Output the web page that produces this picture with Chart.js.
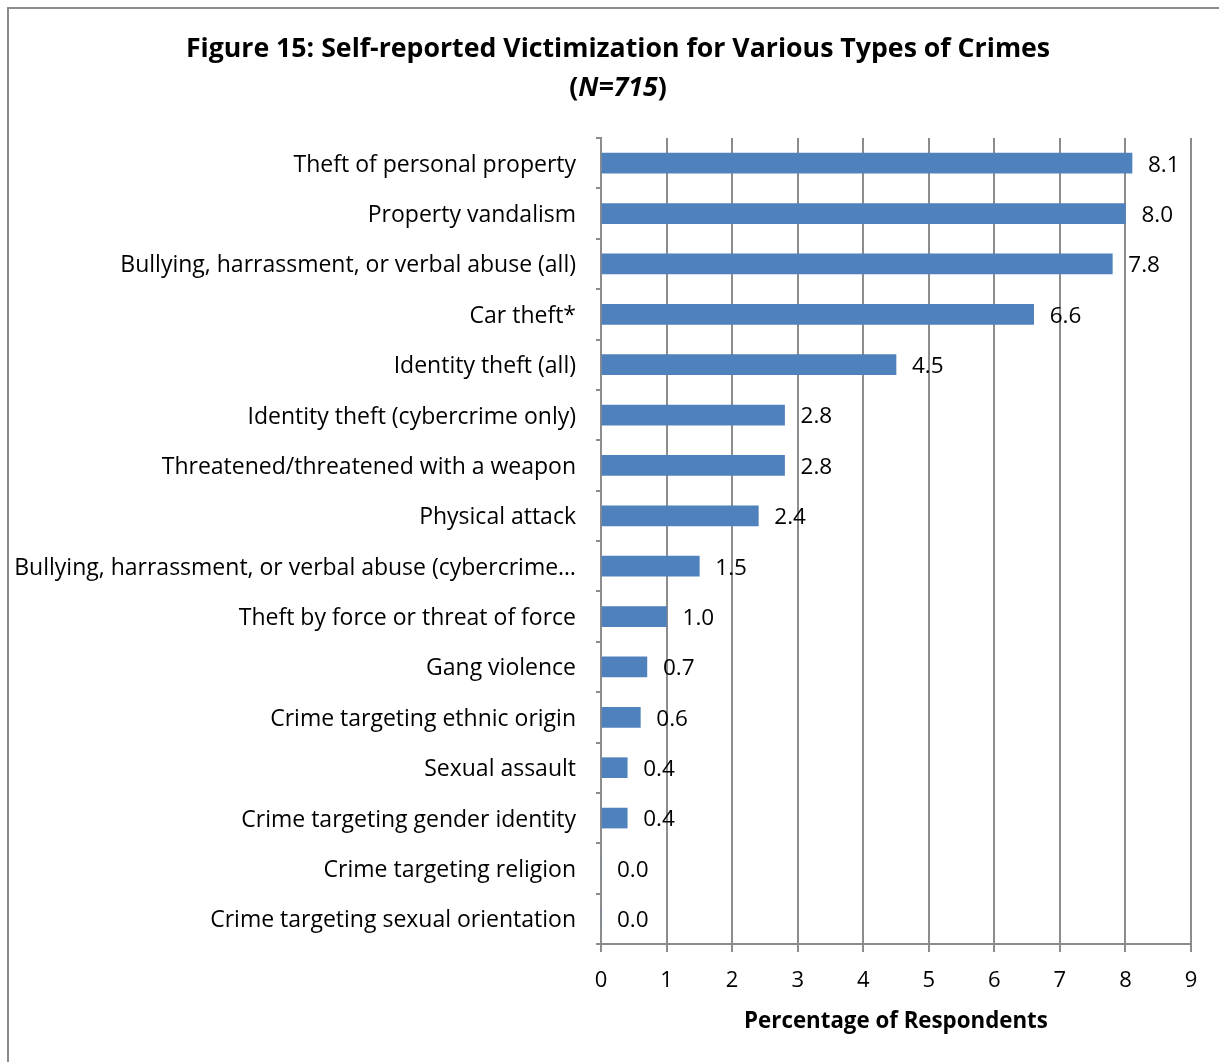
<!DOCTYPE html>
<html>
<head>
<meta charset="utf-8">
<title>Figure 15</title>
<script src="https://cdn.jsdelivr.net/npm/chart.js@4.4.1/dist/chart.umd.min.js"></script>
<style>
    html, body { margin: 0; padding: 0; background: #fff; overflow: hidden; }
    #frame {
        position: absolute; left: 7px; top: 7px; width: 1300px; height: 1100px;
        border-top: 2px solid #8c8c8c; border-left: 2px solid #8c8c8c;
    }
    #chart { position: absolute; left: 0; top: 0; }
</style>
</head>
<body>
<div id="frame"></div>
<canvas id="chart" width="1219" height="1062"></canvas>
<script>
// crime categories, top to bottom
const categories = [
    "Theft of personal property",
    "Property vandalism",
    "Bullying, harrassment, or verbal abuse (all)",
    "Car theft*",
    "Identity theft (all)",
    "Identity theft (cybercrime only)",
    "Threatened/threatened with a weapon",
    "Physical attack",
    "Bullying, harrassment, or verbal abuse (cybercrime\u2026",
    "Theft by force or threat of force",
    "Gang violence",
    "Crime targeting ethnic origin",
    "Sexual assault",
    "Crime targeting gender identity",
    "Crime targeting religion",
    "Crime targeting sexual orientation"
];

// percentage of respondents
const percentages = [8.1, 8.0, 7.8, 6.6, 4.5, 2.8, 2.8, 2.4, 1.5, 1.0, 0.7, 0.6, 0.4, 0.4, 0.0, 0.0];

const xTicks = [0, 1, 2, 3, 4, 5, 6, 7, 8, 9];

const titleLine1 = "Figure 15: Self-reported Victimization for Various Types of Crimes";
const titleN = "N=715";
const xAxisTitle = "Percentage of Respondents";

const FONT = "'Open Sans', Calibri, sans-serif";
const GRID = "#8c8c8c";

// draws value labels just right of each bar end
const valueLabels = {
    id: "valueLabels",
    afterDatasetsDraw(chart) {
        const ctx = chart.ctx;
        const meta = chart.getDatasetMeta(0);
        ctx.save();
        ctx.font = "22.5px " + FONT;
        ctx.fillStyle = "#000";
        ctx.textAlign = "left";
        ctx.textBaseline = "middle";
        meta.data.forEach((bar, i) => {
            ctx.fillText(percentages[i].toFixed(1), bar.x + 16, bar.y + 2);
        });
        ctx.restore();
    }
};

// two-line title, second line has italic N
const chartTitle = {
    id: "chartTitle",
    afterDraw(chart) {
        const ctx = chart.ctx;
        const cx = 618;
        ctx.save();
        ctx.fillStyle = "#000";
        ctx.textBaseline = "middle";
        ctx.textAlign = "center";
        ctx.font = "bold 26.7px " + FONT;
        ctx.fillText(titleLine1, cx, 49);

        const bold = "bold 26.7px " + FONT;
        const boldItalic = "italic bold 26.7px " + FONT;
        ctx.font = bold;
        const wOpen = ctx.measureText("(").width;
        const wClose = ctx.measureText(")").width;
        ctx.font = boldItalic;
        const wN = ctx.measureText(titleN).width;
        let x = cx - (wOpen + wN + wClose) / 2;
        ctx.textAlign = "left";
        ctx.font = bold;
        ctx.fillText("(", x, 88);
        x += wOpen;
        ctx.font = boldItalic;
        ctx.fillText(titleN, x, 88);
        x += wN;
        ctx.font = bold;
        ctx.fillText(")", x, 88);
        ctx.restore();
    }
};

const ctx = document.getElementById("chart").getContext("2d");
new Chart(ctx, {
    type: "bar",
    data: {
        labels: categories,
        datasets: [{
            data: percentages,
            backgroundColor: "#4f81bd",
            borderWidth: 0,
            barThickness: 20
        }]
    },
    options: {
        indexAxis: "y",
        responsive: false,
        animation: false,
        layout: { padding: { top: 138, right: 28, bottom: 0, left: 0 } },
        plugins: {
            legend: { display: false },
            title: { display: false },
            tooltip: { enabled: false }
        },
        scales: {
            x: {
                min: 0,
                max: 9,
                afterBuildTicks: (scale) => {
                    scale.ticks = xTicks.map(v => ({ value: v }));
                },
                afterFit: (scale) => { scale.height = 118; },
                grid: {
                    color: GRID,
                    lineWidth: 2,
                    tickLength: 8
                },
                border: { color: GRID, width: 2 },
                ticks: {
                    color: "#000",
                    font: { family: FONT, size: 22 },
                    padding: 16
                },
                title: {
                    display: true,
                    text: xAxisTitle,
                    color: "#000",
                    font: { family: FONT, size: 22.3, weight: "bold" },
                    padding: { top: 4, bottom: 27 }
                }
            },
            y: {
                afterFit: (scale) => { scale.width = 601; },
                grid: {
                    offset: true,
                    drawOnChartArea: false,
                    color: GRID,
                    lineWidth: 2,
                    tickLength: 5
                },
                border: { color: GRID, width: 2 },
                ticks: {
                    color: "#000",
                    font: { family: FONT, size: 23 },
                    padding: 20,
                    labelOffset: 2,
                    autoSkip: false
                }
            }
        }
    },
    plugins: [valueLabels, chartTitle]
});
</script>
</body>
</html>
